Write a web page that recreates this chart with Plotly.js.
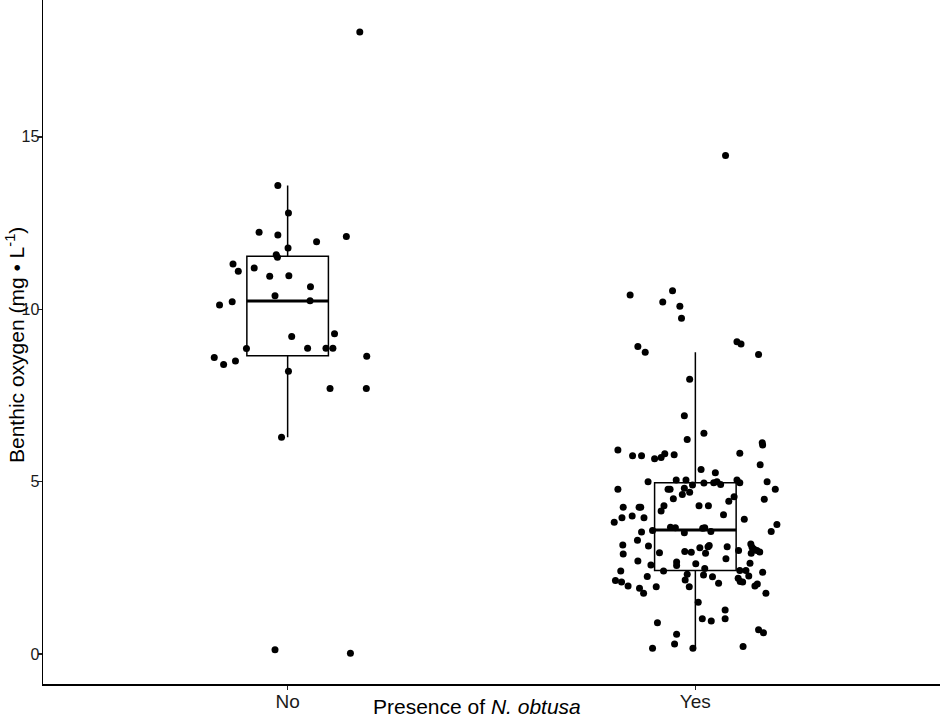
<!DOCTYPE html>
<html>
<head>
<meta charset="utf-8">
<script src="https://cdn.plot.ly/plotly-3.0.1.min.js"></script>
<style>html,body{margin:0;padding:0;background:#fff;}#chart{width:941px;height:718px;}</style>
</head>
<body>
<div id="chart"></div>
<script>
// Categories
const categories = ["No", "Yes"];

// Box statistics per category (mg/L)
const boxQ1 = [8.65, 2.42];
const boxMedian = [10.24, 3.60];
const boxQ3 = [11.54, 4.97];
const boxLower = [6.29, 0.18];
const boxUpper = [13.59, 8.75];

// Jittered observations: horizontal jitter offset and value
const noJitter = [-0.024, 0.002, -0.070, -0.024, 0.144, 0.071, 0.001, -0.028, -0.025, -0.134,
  -0.121, -0.082, -0.044, 0.003, 0.056, -0.031, 0.055, -0.167, -0.136, 0.010,
  0.115, 0.049, 0.094, 0.111, -0.101, -0.180, -0.157, -0.128, 0.194, 0.002,
  0.104, 0.193, -0.015, -0.031, 0.154, 0.177];
const noValues = [13.59, 12.79, 12.23, 12.15, 12.11, 11.96, 11.78, 11.58, 11.51, 11.31,
  11.10, 11.20, 10.96, 10.97, 10.65, 10.39, 10.25, 10.12, 10.22, 9.21,
  9.29, 8.87, 8.87, 8.87, 8.86, 8.60, 8.40, 8.50, 8.64, 8.20,
  7.70, 7.70, 6.29, 0.12, 0.02, 18.04];

const yesJitter = [-0.160, -0.056, -0.080, -0.038, -0.034, -0.141, -0.123, 0.102, 0.112, 0.155,
  -0.014, -0.027, 0.021, -0.020, -0.190, -0.154, -0.132, -0.100, -0.084, -0.075,
  -0.052, 0.109, 0.164, 0.165, 0.159, 0.014, 0.049, 0.074,
  -0.116, -0.047, -0.023, -0.007, 0.021, 0.045, 0.053, 0.062, 0.102, 0.109,
  0.176, -0.190, 0.196, -0.067, -0.062, -0.027, -0.014, -0.032, -0.054, 0.095,
  0.082, 0.169, -0.177, -0.138, -0.134, -0.077, -0.084, 0.009, 0.032, 0.069,
  -0.180, -0.199, -0.155, -0.126, 0.120, 0.200, 0.186, -0.132, -0.105, -0.061,
  -0.049, -0.027, 0.018, 0.023, 0.038, -0.142, -0.178, -0.115, -0.177, -0.088,
  -0.026, -0.010, 0.011, 0.031, 0.034, 0.025, 0.078, 0.106, 0.136, 0.139,
  0.144, 0.151, 0.158, 0.137, 0.075, -0.141, -0.109, -0.046, -0.046, 0.001,
  0.134, -0.183, -0.078, 0.023, 0.109, 0.124, 0.165, -0.196, -0.181, -0.165,
  -0.137, -0.127, -0.118, -0.096, -0.020, -0.025, -0.015, 0.020, 0.042, 0.057,
  0.105, 0.110, 0.116, 0.131, 0.146, 0.152, 0.173, 0.007, 0.073, 0.073,
  0.017, 0.039, -0.093, 0.155, 0.167, -0.046, -0.051, -0.105, -0.006, 0.117];
const yesValues = [10.41, 10.54, 10.21, 10.09, 9.74, 8.92, 8.75, 9.06, 8.99, 8.69,
  7.97, 6.91, 6.40, 6.22, 5.92, 5.75, 5.75, 5.66, 5.70, 5.81,
  5.78, 5.82, 6.13, 6.06, 5.49, 5.35, 5.26, 14.46,
  5.00, 5.05, 5.05, 4.90, 4.96, 4.97, 5.00, 4.92, 5.05, 4.97,
  5.00, 4.78, 4.78, 4.78, 4.78, 4.81, 4.69, 4.63, 4.50, 4.56,
  4.43, 4.49, 4.26, 4.26, 4.26, 4.30, 4.15, 4.30, 4.30, 4.04,
  3.95, 3.82, 4.00, 3.95, 3.91, 3.76, 3.55, 3.54, 3.58, 3.68,
  3.66, 3.52, 3.65, 3.66, 3.55, 3.30, 3.16, 3.13, 2.90, 2.94,
  2.97, 2.95, 3.08, 3.11, 3.15, 2.92, 3.11, 3.00, 3.19, 3.10,
  3.04, 3.00, 2.96, 2.92, 2.76, 2.70, 2.58, 2.67, 2.57, 2.62,
  2.63, 2.41, 2.41, 2.48, 2.42, 2.42, 2.37, 2.13, 2.09, 1.97,
  1.91, 1.76, 2.25, 1.95, 2.31, 2.15, 1.95, 2.29, 2.24, 2.05,
  2.20, 2.10, 2.09, 2.26, 1.97, 2.03, 1.76, 1.50, 1.28, 1.02,
  1.02, 0.96, 0.91, 0.70, 0.62, 0.57, 0.29, 0.17, 0.17, 0.22];

const yTicks = [0, 5, 10, 15];
const xTitleText = "Presence of <i>N. obtusa</i>";
const yTitleText = "Benthic oxygen (mg • L<sup>-1</sup>)";

const boxWidth = 0.2;
const catPos = categories.map((c, i) => i);

const boxTrace = {
  type: 'box',
  x: catPos,
  q1: boxQ1, median: boxMedian, q3: boxQ3,
  lowerfence: boxLower, upperfence: boxUpper,
  width: boxWidth,
  whiskerwidth: 0,
  boxpoints: false,
  fillcolor: 'rgba(255,255,255,0)',
  line: {color: '#000', width: 1.5},
  hoverinfo: 'skip'
};

// thicker median lines (ggplot fatten)
const medX = [], medY = [];
catPos.forEach((p, i) => {
  medX.push(p - boxWidth / 2, p + boxWidth / 2, null);
  medY.push(boxMedian[i], boxMedian[i], null);
});
const medTrace = {
  type: 'scatter', mode: 'lines', x: medX, y: medY,
  line: {color: '#000', width: 3}, hoverinfo: 'skip'
};

const groups = [[noJitter, noValues], [yesJitter, yesValues]];
const pointTraces = groups.map((g, i) => ({
  type: 'scatter', mode: 'markers',
  x: g[0].map(o => catPos[i] + o),
  y: g[1],
  marker: {color: '#000', size: 7, line: {width: 0}},
  hoverinfo: 'skip'
}));

const fontFamily = 'Liberation Sans, Arial, Helvetica, sans-serif';

const layout = {
  width: 941, height: 718,
  margin: {l: 43, r: 1, t: 0, b: 34, pad: 0},
  paper_bgcolor: '#fff', plot_bgcolor: '#fff',
  showlegend: false,
  xaxis: {
    range: [-0.6, 1.6],
    tickvals: catPos, ticktext: categories,
    ticks: 'outside', ticklen: 4, tickwidth: 1.5, tickcolor: '#222',
    ticklabelstandoff: -4,
    showline: true, linecolor: '#000', linewidth: 1.5,
    showgrid: false, zeroline: false,
    tickfont: {family: fontFamily, size: 19, color: '#1a1a1a'},
    fixedrange: true
  },
  yaxis: {
    range: [-0.87, 18.97],
    tickvals: yTicks,
    ticks: 'outside', ticklen: 4, tickwidth: 1.5, tickcolor: '#222',
    ticklabelstandoff: -5,
    showline: true, linecolor: '#000', linewidth: 1.5,
    showgrid: false, zeroline: false,
    tickfont: {family: fontFamily, size: 16, color: '#1a1a1a'},
    fixedrange: true
  },
  annotations: [
    {text: xTitleText, xref: 'paper', yref: 'paper',
     x: (477 - 43) / 897, y: (684 - 706) / 684, xanchor: 'center', yanchor: 'middle',
     showarrow: false, font: {family: fontFamily, size: 21, color: '#000'}},
    {text: yTitleText, xref: 'paper', yref: 'paper',
     x: (15 - 43) / 897, y: (684 - 345) / 684, xanchor: 'center', yanchor: 'middle',
     textangle: -90,
     showarrow: false, font: {family: fontFamily, size: 21, color: '#000'}}
  ]
};

Plotly.newPlot('chart', [boxTrace, medTrace].concat(pointTraces), layout, {displayModeBar: false, staticPlot: true});
</script>
</body>
</html>
